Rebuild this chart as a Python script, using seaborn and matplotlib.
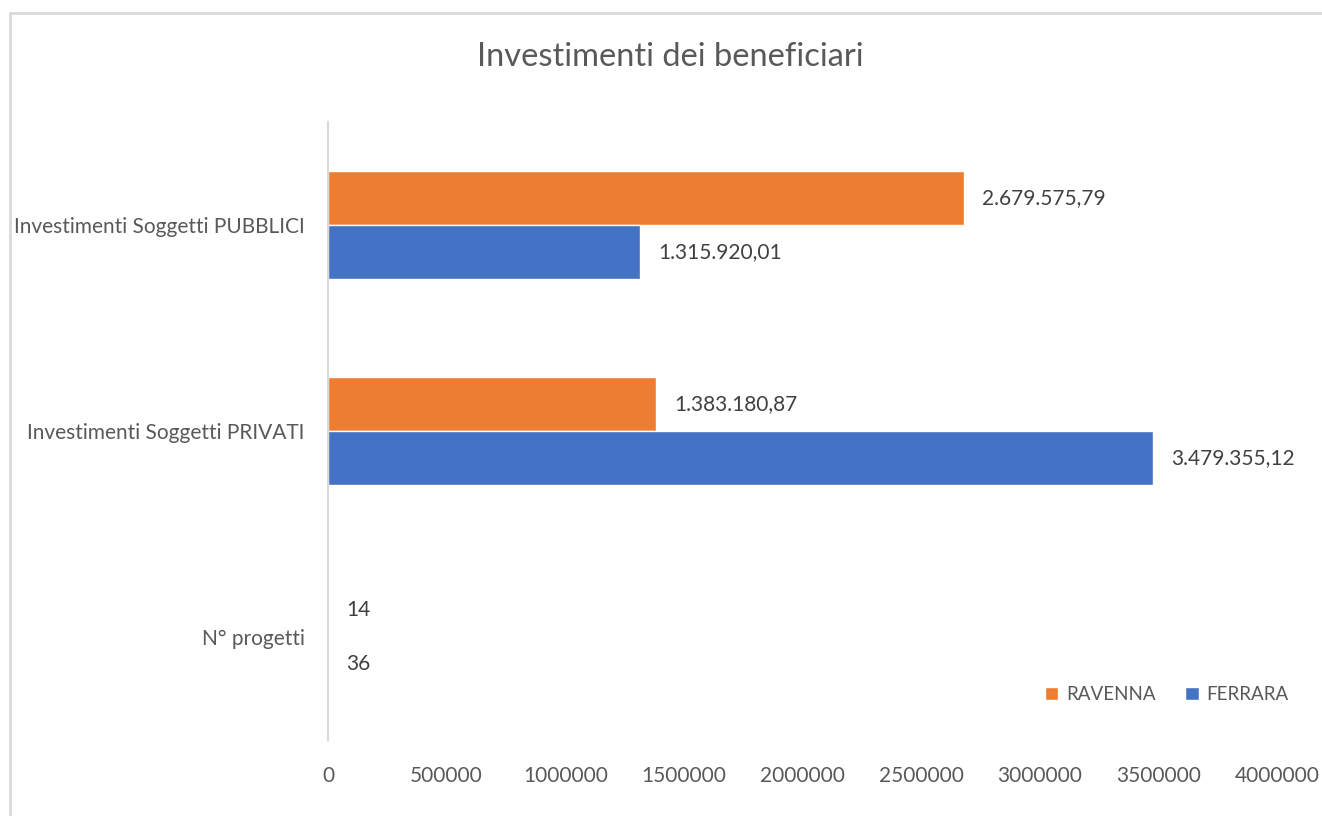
import matplotlib
matplotlib.use("Agg")
import matplotlib.pyplot as plt
import seaborn as sns
import pandas as pd
from matplotlib.lines import Line2D

categories = ["Investimenti Soggetti PUBBLICI", "Investimenti Soggetti PRIVATI", "N° progetti"]
cities = ["RAVENNA", "FERRARA"]
ravenna = [2679575.79, 1383180.87, 14]
ferrara = [1315920.01, 3479355.12, 36]
xticks = [0, 500000, 1000000, 1500000, 2000000, 2500000, 3000000, 3500000, 4000000]
title = "Investimenti dei beneficiari"
colors = {"RAVENNA": "#ED7D31", "FERRARA": "#4472C4"}

def fmt(v):
    if float(v).is_integer() and v < 1000:
        return str(int(v))
    s = f"{v:,.2f}"
    return s.replace(",", "X").replace(".", ",").replace("X", ".")

df = pd.DataFrame({
    "categoria": categories * 2,
    "citta": ["RAVENNA"] * 3 + ["FERRARA"] * 3,
    "valore": ravenna + ferrara,
})

sns.set_style("white")
plt.rcParams["font.family"] = ["Lato", "DejaVu Sans"]
txt = "#595959"

fig = plt.figure(figsize=(13.22, 8.16), dpi=100)
ax = fig.add_axes([328 / 1322, 1 - 740 / 816, (1277 - 328) / 1322, (740 - 122) / 816])

sns.barplot(data=df, x="valore", y="categoria", hue="citta", order=categories,
            hue_order=cities, palette=colors, orient="h", width=0.52,
            saturation=1, ax=ax, legend=True)

for cont, vals in zip(ax.containers, [ravenna, ferrara]):
    ax.bar_label(cont, labels=[fmt(v) for v in vals], padding=13,
                 fontsize=15, color="#404040")

ax.set_xlim(0, 4000000)
ax.set_xticks(xticks)
ax.set_xticklabels([str(t) for t in xticks])
ax.set_xlabel("")
ax.set_ylabel("")
ax.tick_params(axis="x", length=0, pad=19, labelsize=15, labelcolor=txt)
ax.tick_params(axis="y", length=0, pad=17, labelsize=15, labelcolor=txt)
for s in ["top", "right", "bottom"]:
    ax.spines[s].set_visible(False)
ax.spines["left"].set_color("#D9D9D9")
ax.spines["left"].set_linewidth(1.5)
ax.grid(False)

handles, labels = ax.get_legend_handles_labels()
ax.legend(handles, labels, loc="center left", bbox_to_anchor=(0.738, 0.074),
          ncol=2, frameon=False, handlelength=0.7, handleheight=0.7,
          handletextpad=0.4, columnspacing=1.6, fontsize=13.5, labelcolor=txt)

fig.text(670 / 1322, 1 - 57 / 816, title, ha="center", va="center",
         fontsize=23.5, color=txt)

# chart frame lines (top and left)
fig.add_artist(Line2D([10 / 1322, 1], [1 - 13 / 816, 1 - 13 / 816],
                      transform=fig.transFigure, color="#D9D9D9", lw=2))
fig.add_artist(Line2D([10 / 1322, 10 / 1322], [0, 1 - 13 / 816],
                      transform=fig.transFigure, color="#D9D9D9", lw=2))

fig.savefig("out.png", dpi=100)
